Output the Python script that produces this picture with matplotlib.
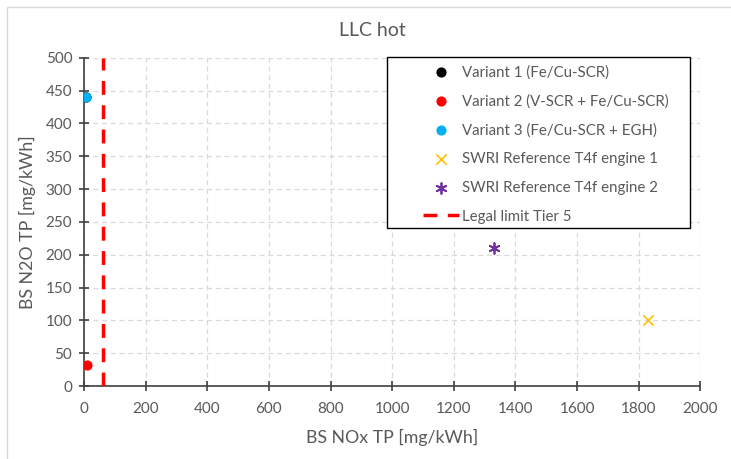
import matplotlib.pyplot as plt
from matplotlib.patches import Rectangle
from matplotlib.ticker import MultipleLocator

plt.rcParams['font.family'] = ['Lato', 'DejaVu Sans']

# Messwerte (BS NOx / BS N2O, mg/kWh)
variant1_nox = [5]
variant1_n2o = [440]
variant2_nox = [10]
variant2_n2o = [32]
variant3_nox = [5]
variant3_n2o = [440]
swri1_nox = [1830]
swri1_n2o = [100]
swri2_nox = [1330]
swri2_n2o = [210]
legal_limit_nox = 60

text_grey = '#595959'

fig = plt.figure(figsize=(7.31, 4.59), dpi=100)
# heller Rahmen des Diagrammbereichs
fig.patches.append(Rectangle((7 / 731, -0.1), 1.1, 1.1 - 7 / 459,
                             transform=fig.transFigure, fill=False,
                             edgecolor='#D9D9D9', lw=1.0))

ax = fig.add_axes([0.115, 0.159, 0.843, 0.715])

ax.scatter(variant1_nox, variant1_n2o, s=40, color='black', label='Variant 1 (Fe/Cu-SCR)', zorder=3)
ax.scatter(variant2_nox, variant2_n2o, s=40, color='#FF0000', label='Variant 2 (V-SCR + Fe/Cu-SCR)', zorder=4)
ax.scatter(variant3_nox, variant3_n2o, s=40, color='#00B0F0', label='Variant 3 (Fe/Cu-SCR + EGH)', zorder=4)
ax.scatter(swri1_nox, swri1_n2o, s=55, marker='x', color='#FFC000', linewidths=1.2,
           label='SWRI Reference T4f engine 1', zorder=4)
ax.scatter(swri2_nox, swri2_n2o, s=60, marker=(6, 2, 0), color='#7030A0', linewidths=1.3,
           label='SWRI Reference T4f engine 2', zorder=4)
ax.plot([legal_limit_nox, legal_limit_nox], [0, 500], color='#FF0000', lw=2.5,
        dashes=(4, 3), label='Legal limit Tier 5', zorder=3)

ax.set_xlim(0, 2000)
ax.set_ylim(0, 500)
ax.xaxis.set_major_locator(MultipleLocator(200))
ax.yaxis.set_major_locator(MultipleLocator(50))
ax.grid(True, color='#D9D9D9', linestyle=(0, (4, 3)), lw=0.9)
ax.set_axisbelow(True)

for side in ['top', 'right']:
    ax.spines[side].set_visible(False)
for side in ['left', 'bottom']:
    ax.spines[side].set_color('#404040')
    ax.spines[side].set_linewidth(1.2)
ax.tick_params(direction='inout', length=7, width=1.2, color='#404040',
               labelcolor=text_grey, labelsize=11)
ax.tick_params(axis='x', pad=8)
ax.tick_params(axis='y', pad=5)

ax.set_xlabel('BS NOx TP [mg/kWh]', fontsize=12.8, color=text_grey, labelpad=9)
ax.set_ylabel('BS N2O TP [mg/kWh]', fontsize=12.8, color=text_grey, labelpad=7)
fig.text(372 / 731, 1 - 30 / 459, 'LLC hot', fontsize=14, color=text_grey,
         ha='center', va='center')

# Legendenrahmen separat zeichnen, damit links Platz bleibt
ax.add_patch(Rectangle((387 / 731, 1 - 228 / 459), 303 / 731, 171 / 459,
                       transform=fig.transFigure, facecolor='white',
                       edgecolor='black', lw=1.0, zorder=5, clip_on=False))
leg = ax.legend(loc='upper left', bbox_to_anchor=(423 / 731, 1 - 65 / 459),
                bbox_transform=fig.transFigure, fontsize=10.8, frameon=False,
                borderpad=0, labelspacing=0.98, handlelength=2.4, handletextpad=0.2,
                borderaxespad=0)
leg.set_zorder(6)
for txt in leg.get_texts():
    txt.set_color(text_grey)

fig.savefig('out.png', dpi=100)
